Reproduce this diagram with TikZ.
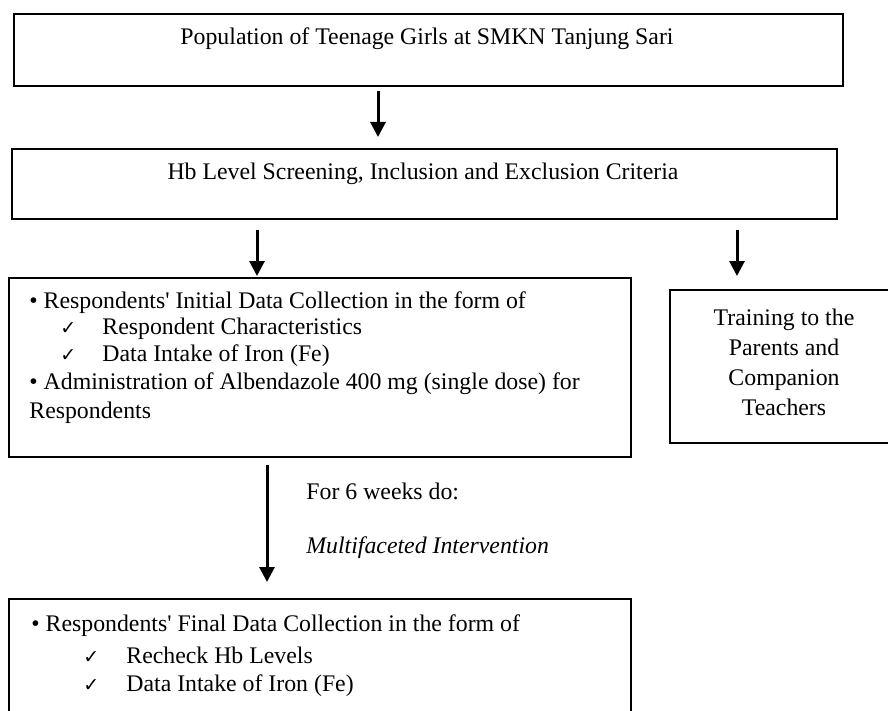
\documentclass[tikz,border=0pt]{standalone}
\usepackage{fontspec}
\setmainfont{Liberation Serif}[Ligatures=TeXOff]
\newfontfamily\checkfont{DejaVu Sans}
\usetikzlibrary{arrows.meta}
\newcommand{\tick}{{\checkfont\fontsize{9.5}{9.5}\selectfont ✓}}
\tikzset{
  box/.style={draw,line width=1pt,inner sep=0pt,anchor=north west},
  arr/.style={line width=1.5pt,-{Triangle[length=7.5pt,width=7.5pt]}},
  txt/.style={anchor=base west,inner sep=0pt},
  ctxt/.style={anchor=base,inner sep=0pt}
}
\begin{document}
\begin{tikzpicture}[x=0.5pt,y=-0.5pt,font=\fontsize{11.9}{13.5}\selectfont]
\useasboundingbox (0,0) rectangle (888,711);
\node [box,minimum width=414.5pt,minimum height=36pt] (pop) at (13,13) {};
\node [box,minimum width=412.5pt,minimum height=35pt] (screen) at (11,148) {};
\node [box,minimum width=311pt,minimum height=89.5pt] (initial) at (8,277) {};
\node [box,minimum width=115pt,minimum height=76.5pt] (training) at (669,289) {};
\node [box,minimum width=311pt,minimum height=65pt] (final) at (8,598) {};
\node [ctxt] (poptext) at (427,45) {Population of Teenage Girls at SMKN Tanjung Sari};
\node [ctxt] (screentext) at (423,180) {Hb Level Screening, Inclusion and Exclusion Criteria};
\node [txt] (init1) at (29,308) {• Respondents' Initial Data Collection in the form of};
\node [txt] (tick1) at (60,334) {\tick};
\node [txt] (init2) at (102,334) {Respondent Characteristics};
\node [txt] (tick2) at (60,361) {\tick};
\node [txt] (init3) at (102,361) {Data Intake of Iron (Fe)};
\node [txt] (init4) at (29,389) {• Administration of Albendazole 400 mg (single dose) for};
\node [txt] (init5) at (29,418) {Respondents};
\node [ctxt,align=center,font=\fontsize{11.9}{15}\selectfont] (traintext) at (784,415)
  {Training to the\\Parents and\\Companion\\Teachers};
\node [txt] (weeks) at (306,499) {For 6 weeks do:};
\node [txt] (multi) at (306,553) {\itshape Multifaceted Intervention};
\node [txt] (fin1) at (31,631) {• Respondents' Final Data Collection in the form of};
\node [txt] (tick3) at (83,663) {\tick};
\node [txt] (fin2) at (126,663) {Recheck Hb Levels};
\node [txt] (tick4) at (83,691) {\tick};
\node [txt] (fin3) at (126,691) {Data Intake of Iron (Fe)};
\coordinate (c1) at (378,0);
\coordinate (c2) at (257,0);
\coordinate (c3) at (737,0);
\coordinate (c4) at (267,0);
\draw [arr,shorten <=2pt,shorten >=5.5pt] (pop.south -| c1) -- (screen.north -| c1);
\draw [arr,shorten <=5pt,shorten >=0.5pt] (screen.south -| c2) -- (initial.north -| c2);
\draw [arr,shorten <=5pt,shorten >=6.5pt] (screen.south -| c3) -- (training.north -| c3);
\draw [arr,shorten <=3.5pt,shorten >=8pt] (initial.south -| c4) -- (final.north -| c4);
\end{tikzpicture}
\end{document}
